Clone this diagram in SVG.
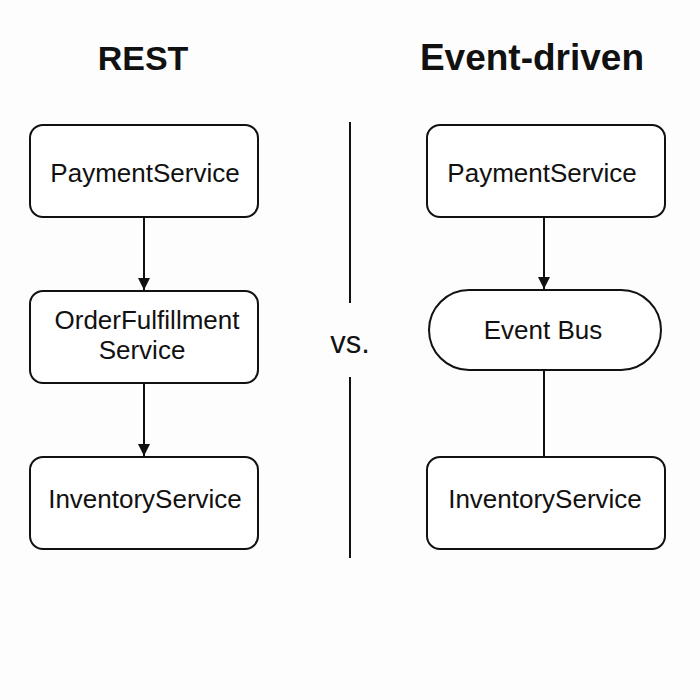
<svg xmlns="http://www.w3.org/2000/svg" width="700" height="700" viewBox="0 0 700 700">
<style>
.box{fill:#fff;stroke:#111;stroke-width:2}
.lbl{font-family:"Liberation Sans",Arial,sans-serif;font-size:26px;fill:#111;text-anchor:middle}
.ttl{font-family:"Liberation Sans",Arial,sans-serif;font-size:34px;fill:#111;text-anchor:middle;font-weight:bold}
.ln{stroke:#111;stroke-width:2;fill:none}
</style>
<defs>
<marker id="ah" viewBox="0 0 10 10" refX="10" refY="5" markerWidth="6" markerHeight="6" orient="auto" markerUnits="strokeWidth">
<path d="M0,0 L10,5 L0,10 z" fill="#111"/>
</marker>
</defs>
<rect width="700" height="700" fill="#fdfdfd"/>
<text class="ttl" x="143" y="70">REST</text>
<text class="ttl" x="532" y="70" style="font-size:37px">Event-driven</text>
<g id="connectors">
<line class="ln" x1="144" y1="217" x2="144" y2="290" marker-end="url(#ah)"/>
<line class="ln" x1="144" y1="383" x2="144" y2="456" marker-end="url(#ah)"/>
<line class="ln" x1="544" y1="217" x2="544" y2="289" marker-end="url(#ah)"/>
<line class="ln" x1="544" y1="370" x2="544" y2="457"/>
</g>
<g id="divider">
<line class="ln" x1="350" y1="122" x2="350" y2="303"/>
<line class="ln" x1="350" y1="377" x2="350" y2="558"/>
<text class="lbl" x="350" y="353" style="font-size:31px">vs.</text>
</g>
<g id="rest-payment"><rect class="box" x="30" y="125" width="228" height="92" rx="13"/><text class="lbl" x="145" y="182">PaymentService</text></g>
<g id="rest-order"><rect class="box" x="30" y="291" width="228" height="92" rx="13"/><text class="lbl" x="147" y="329">OrderFulfillment</text><text class="lbl" x="142" y="359">Service</text></g>
<g id="rest-inventory"><rect class="box" x="30" y="457" width="228" height="92" rx="13"/><text class="lbl" x="145" y="508">InventoryService</text></g>
<g id="ev-payment"><rect class="box" x="427" y="125" width="238" height="92" rx="13"/><text class="lbl" x="542" y="182">PaymentService</text></g>
<g id="ev-bus"><rect class="box" x="429" y="290" width="232" height="80" rx="40"/><text class="lbl" x="543" y="339">Event Bus</text></g>
<g id="ev-inventory"><rect class="box" x="427" y="457" width="238" height="92" rx="13"/><text class="lbl" x="545" y="508">InventoryService</text></g>
</svg>
